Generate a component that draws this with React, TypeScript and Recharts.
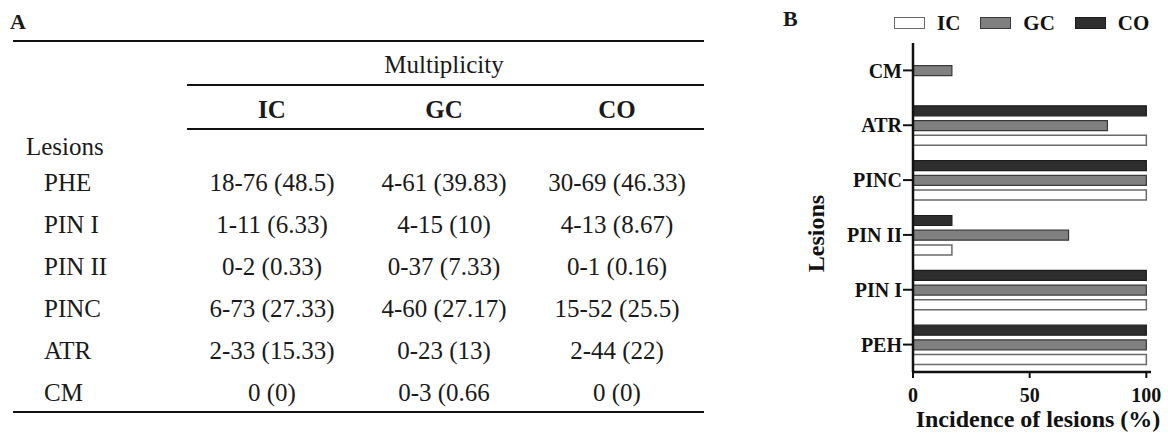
import React from "react";
import { BarChart, Bar, XAxis, YAxis, Label } from "recharts";

// ---------- Table A data ----------
const tableLesions = ["PHE", "PIN I", "PIN II", "PINC", "ATR", "CM"];
const icMultiplicity = ["18-76 (48.5)", "1-11 (6.33)", "0-2 (0.33)", "6-73 (27.33)", "2-33 (15.33)", "0 (0)"];
const gcMultiplicity = ["4-61 (39.83)", "4-15 (10)", "0-37 (7.33)", "4-60 (27.17)", "0-23 (13)", "0-3 (0.66"];
const coMultiplicity = ["30-69 (46.33)", "4-13 (8.67)", "0-1 (0.16)", "15-52 (25.5)", "2-44 (22)", "0 (0)"];
const groupNames = ["IC", "GC", "CO"];

// ---------- Chart B data ----------
const chartLesions = ["CM", "ATR", "PINC", "PIN II", "PIN I", "PEH"];
const icIncidence = [0, 100, 100, 16.67, 100, 100];
const gcIncidence = [16.67, 83.33, 100, 66.67, 100, 100];
const coIncidence = [0, 100, 100, 16.67, 100, 100];
const xTicks = [0, 50, 100];

const SERIF = "Liberation Serif, Times New Roman, DejaVu Serif, serif";

const seriesStyle: Record<string, { fill: string; stroke: string; strokeWidth: number }> = {
  IC: { fill: "#ffffff", stroke: "#6a6a6a", strokeWidth: 1.5 },
  GC: { fill: "#808080", stroke: "#3a3a3a", strokeWidth: 1.2 },
  CO: { fill: "#2e2e2e", stroke: "#1c1c1c", strokeWidth: 1.2 },
};

const chartData = chartLesions.map((lesion, i) => ({
  lesion,
  IC: icIncidence[i],
  GC: gcIncidence[i],
  CO: coIncidence[i],
}));

const colCenters = [272, 444, 617];
const columns = [icMultiplicity, gcMultiplicity, coMultiplicity];

function Txt(props: {
  left: number;
  cy: number;
  width?: number;
  align?: "left" | "center";
  bold?: boolean;
  size?: number;
  children: React.ReactNode;
}) {
  const { left, cy, width, align = "left", bold, size = 25, children } = props;
  return (
    <div
      style={{
        position: "absolute",
        left,
        top: cy - 15,
        height: 30,
        lineHeight: "30px",
        width,
        textAlign: align,
        fontFamily: SERIF,
        fontSize: size,
        fontWeight: bold ? "bold" : "normal",
        color: "#1a1a1a",
        whiteSpace: "nowrap",
      }}
    >
      {children}
    </div>
  );
}

function Rule(props: { x1: number; x2: number; y: number; t: number }) {
  return (
    <div
      style={{
        position: "absolute",
        left: props.x1,
        top: props.y - props.t / 2,
        width: props.x2 - props.x1,
        height: props.t,
        background: "#111",
      }}
    />
  );
}

function TableA() {
  return (
    <>
      <Txt left={10} cy={22} bold size={22}>A</Txt>
      <Rule x1={13} x2={704} y={41} t={2.5} />
      <Txt left={344} cy={65} width={200} align="center">Multiplicity</Txt>
      <Rule x1={187} x2={704} y={85} t={2} />
      {groupNames.map((g, i) => (
        <Txt key={g} left={colCenters[i] - 85} cy={110} width={170} align="center" bold>
          {g}
        </Txt>
      ))}
      <Rule x1={187} x2={704} y={129} t={2} />
      <Txt left={26} cy={147}>Lesions</Txt>
      {tableLesions.map((l, r) => {
        const cy = 183 + r * 42;
        return (
          <React.Fragment key={l}>
            <Txt left={44} cy={cy}>{l}</Txt>
            {columns.map((col, c) => (
              <Txt key={c} left={colCenters[c] - 85} cy={cy} width={170} align="center">
                {col[r]}
              </Txt>
            ))}
          </React.Fragment>
        );
      })}
      <Rule x1={13} x2={704} y={412} t={2.5} />
    </>
  );
}

function LegendB() {
  return (
    <div
      style={{
        position: "absolute",
        left: 894,
        top: 8,
        height: 30,
        display: "flex",
        alignItems: "center",
        fontFamily: SERIF,
        fontWeight: "bold",
        fontSize: 21,
        color: "#111",
      }}
    >
      {groupNames.map((g, i) => (
        <div key={g} style={{ display: "flex", alignItems: "center", marginRight: i < 2 ? 20 : 0 }}>
          <div
            style={{
              width: 31,
              height: 12,
              background: seriesStyle[g].fill,
              border: `1.5px solid ${seriesStyle[g].stroke}`,
              boxSizing: "border-box",
              marginRight: 12,
            }}
          />
          <span>{g}</span>
        </div>
      ))}
    </div>
  );
}

const tickStyle = { fontFamily: SERIF, fontWeight: "bold", fontSize: 20, fill: "#111" };

function ChartB() {
  return (
    <div style={{ position: "absolute", left: 780, top: 0 }}>
      <BarChart
        width={388}
        height={434}
        data={chartData}
        layout="vertical"
        margin={{ top: 43, right: 17, bottom: 0, left: 0 }}
        barGap={4.7}
      >
        <XAxis
          type="number"
          domain={[0, 102]}
          ticks={xTicks}
          height={62}
          tick={tickStyle}
          tickSize={6}
          tickMargin={10}
          axisLine={{ stroke: "#111", strokeWidth: 2.5 }}
          tickLine={{ stroke: "#111", strokeWidth: 2 }}
        >
          <Label
            value="Incidence of lesions (%)"
            position="insideBottom"
            offset={7}
            dx={6}
            style={{ fontFamily: SERIF, fontWeight: "bold", fontSize: 24, fill: "#111" }}
          />
        </XAxis>
        <YAxis
          type="category"
          dataKey="lesion"
          width={133}
          tick={tickStyle}
          tickSize={10}
          tickMargin={1}
          axisLine={{ stroke: "#111", strokeWidth: 2.5 }}
          tickLine={{ stroke: "#111", strokeWidth: 2 }}
        >
          <Label
            value="Lesions"
            angle={-90}
            position="center"
            dx={-31}
            dy={26}
            style={{ fontFamily: SERIF, fontWeight: "bold", fontSize: 24, fill: "#111", textAnchor: "middle" }}
          />
        </YAxis>
        {["CO", "GC", "IC"].map((k) => (
          <Bar
            key={k}
            dataKey={k}
            barSize={10}
            fill={seriesStyle[k].fill}
            stroke={seriesStyle[k].stroke}
            strokeWidth={seriesStyle[k].strokeWidth}
            isAnimationActive={false}
          />
        ))}
      </BarChart>
    </div>
  );
}

export default function App() {
  return (
    <div
      style={{
        position: "absolute",
        left: 0,
        top: 0,
        width: 1168,
        height: 434,
        background: "#fff",
        overflow: "hidden",
      }}
    >
      <TableA />
      <Txt left={783} cy={19} bold size={22}>B</Txt>
      <LegendB />
      <ChartB />
    </div>
  );
}
